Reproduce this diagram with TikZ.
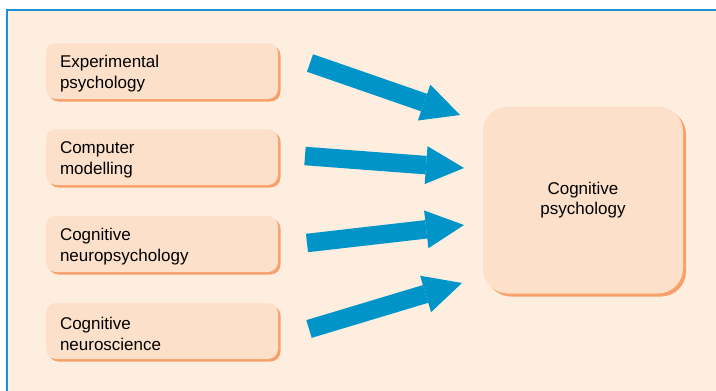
\documentclass[tikz,border=0pt]{standalone}
\usepackage{fontspec}
\setmainfont{Liberation Sans}
\usepackage{xcolor}
\usepackage{tikz}
\usetikzlibrary{arrows.meta,shadows}
\definecolor{frameblue}{HTML}{1E8FD0}
\definecolor{pagepeach}{HTML}{FEEEE0}
\definecolor{boxpeach}{HTML}{FCE0CA}
\definecolor{boxshade}{HTML}{F7A06A}
\definecolor{arrowblue}{HTML}{0094C9}
\tikzset{
  fieldbox/.style={fill=boxpeach,rounded corners=10pt,text width=204pt,inner xsep=14pt,
    minimum height=56pt,align=left,font=\fontsize{17}{20.5}\selectfont,text height=18pt,
    drop shadow={fill=boxshade,opacity=1,shadow xshift=2.5pt,shadow yshift=-2.5pt}},
  mainbox/.style={fill=boxpeach,rounded corners=25pt,minimum width=200pt,minimum height=187pt,
    align=center,font=\fontsize{17}{20.5}\selectfont,
    drop shadow={fill=boxshade,opacity=1,shadow xshift=3pt,shadow yshift=-3pt}},
  bigarrow/.style={-{Triangle[length=38pt,width=38pt,line width=0pt]},line width=18.5pt,draw=arrowblue}
}

\begin{document}
\begin{tikzpicture}[x=1pt,y=-1pt]
\useasboundingbox (0,0) rectangle (716,391);
\fill[white] (0,0) rectangle (716,391);
\fill[pagepeach] (7,10) rectangle (716,391);
\draw[frameblue, line width=1.5pt] (716,10) -- (7,10) -- (7,391);

\node[fieldbox] (exp) at (162,71) {Experimental\\psychology};
\node[fieldbox] (comp) at (162,157) {Computer\\modelling};
\node[fieldbox] (neuropsy) at (162,244) {Cognitive\\neuropsychology};
\node[fieldbox] (neurosci) at (162,331) {Cognitive\\neuroscience};
\node[mainbox] (cogpsy) at (583,200) {Cognitive\\psychology};

\coordinate (exp-out) at (310,63);
\coordinate (comp-out) at (305,156);
\coordinate (neuropsy-out) at (307,243);
\coordinate (neurosci-out) at (309,329);
\coordinate (cogpsy-in1) at (460,115);
\coordinate (cogpsy-in2) at (464,168);
\coordinate (cogpsy-in3) at (464,225);
\coordinate (cogpsy-in4) at (462,283);

\draw[bigarrow] (exp-out) -- (cogpsy-in1);
\draw[bigarrow] (comp-out) -- (cogpsy-in2);
\draw[bigarrow] (neuropsy-out) -- (cogpsy-in3);
\draw[bigarrow] (neurosci-out) -- (cogpsy-in4);
\end{tikzpicture}
\end{document}
